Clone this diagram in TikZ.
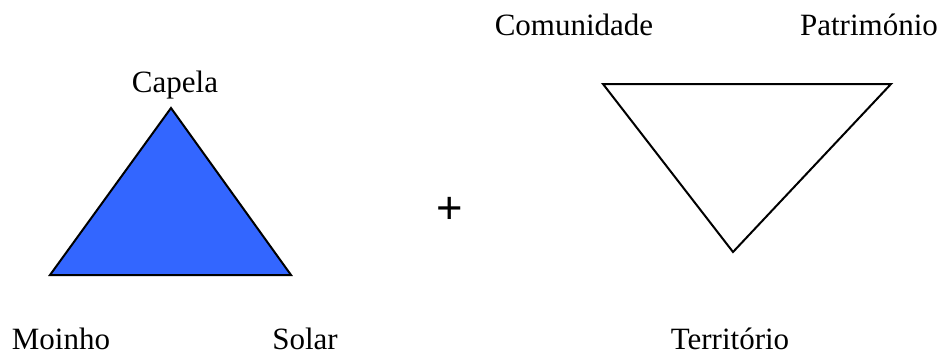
\documentclass[tikz,border=0pt]{standalone}
\usepackage{fontspec}
\setmainfont{Liberation Serif}
\newfontfamily\plusfont{Liberation Sans}
\definecolor{triblue}{RGB}{51,102,255}
\begin{document}
\begin{tikzpicture}[x=0.75pt,y=-0.75pt,
  lbl/.style={anchor=base,inner sep=0pt,font=\fontsize{23.25pt}{28pt}\selectfont},
  tri/.style={draw=black,line width=1.5pt,line join=miter}]
\useasboundingbox (0,0) rectangle (944,354);
\coordinate (a1) at (171,108);
\coordinate (a2) at (50,275);
\coordinate (a3) at (291,275);
\coordinate (b1) at (603,84);
\coordinate (b2) at (891,84);
\coordinate (b3) at (733,252);
\fill[triblue] (a1) -- (a2) -- (a3) -- cycle;
\draw[tri] (a1) -- (a2) -- (a3) -- cycle;
\draw[tri] (b1) -- (b2) -- (b3) -- cycle;
\node[lbl] (capela) at (175,92) {Capela};
\node[lbl] (moinho) at (61,349) {Moinho};
\node[lbl] (solar) at (305,349) {Solar};
\node[lbl] (comunidade) at (574,35) {Comunidade};
\node[lbl] (patrimonio) at (869,35) {Património};
\node[lbl] (territorio) at (730,349) {Território};
\node[inner sep=0pt,font=\plusfont\fontsize{34pt}{36pt}\selectfont] (plus) at (450,210) {+};
\end{tikzpicture}
\end{document}
